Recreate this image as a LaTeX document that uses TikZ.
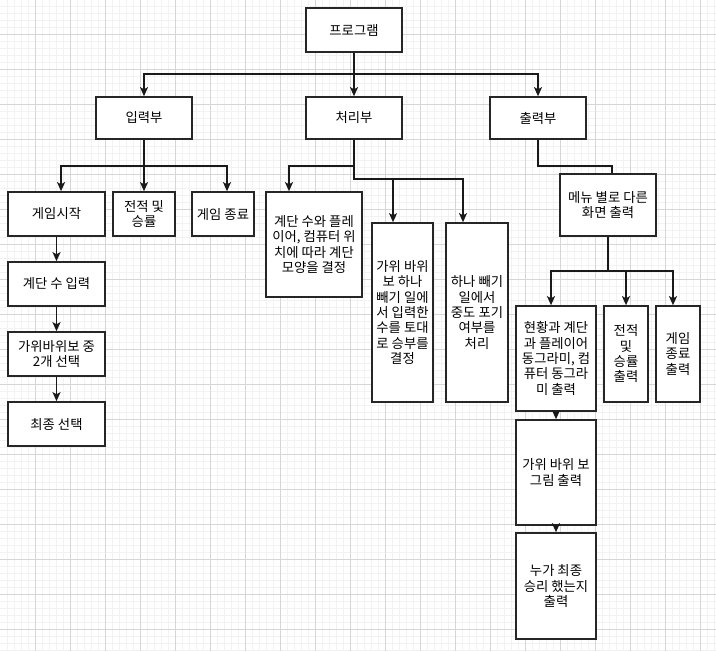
\documentclass[tikz,border=0pt]{standalone}
\usepackage{fontspec}
\newfontfamily\krfont{Noto Sans CJK KR}
\usetikzlibrary{arrows.meta}

\tikzset{
  blk/.style={draw=black!85, line width=1.2pt, fill=white, inner sep=0pt, align=center,
    font=\krfont\fontsize{10}{11.5}\selectfont},
  box/.style 2 args={minimum width=#1*0.75pt, minimum height=#2*0.75pt},
  link/.style={draw=black!90, line width=1.1pt},
  arr/.style={link, -{Stealth[length=6.8pt,width=6pt,inset=1.6pt]}},
  gridminor/.style={draw=black!5, line width=0.4pt},
  gridmajor/.style={draw=black!16, line width=0.5pt}
}

\begin{document}
\begin{tikzpicture}[x=0.75pt,y=0.75pt,yscale=-1,xscale=1]
\useasboundingbox (0,0) rectangle (716,651);

%Grid
\fill[white] (0,0) rectangle (716,651);
\foreach \gx in {7,14,...,714} \draw[gridminor] (\gx,0) -- (\gx,651);
\foreach \gy in {6,13,...,650} \draw[gridminor] (0,\gy) -- (716,\gy);
\foreach \gx in {35,70,...,714} \draw[gridmajor] (\gx,0) -- (\gx,651);
\foreach \gy in {34,69,...,650} \draw[gridmajor] (0,\gy) -- (716,\gy);

%Bus levels
\coordinate (busA) at (0,74);
\coordinate (busB) at (0,166);
\coordinate (busC) at (0,179);
\coordinate (busD) at (0,271);

%Shape: Rectangle (top)
\node[blk, box={96}{44}] (prog) at (354,30) {프로그램};
%Shape: Rectangle (parts)
\node[blk, box={96}{42}] (inp) at (144,118) {입력부};
\node[blk, box={96}{42}] (proc) at (354,118) {처리부};
\node[blk, box={96}{42}] (outp) at (538,118) {출력부};

%Shape: Rectangle (input)
\node[blk, box={97}{44}] (start) at (56.5,214) {게임시작};
\node[blk, box={62}{44}] (record) at (144,214) {전적 및\\승률};
\node[blk, box={62}{44}] (quit) at (223,214) {게임 종료};
\node[blk, box={97}{44}] (steps) at (56.5,284) {계단 수 입력};
\node[blk, box={97}{44}] (pick) at (56.5,354) {가위바위보 중\\2개 선택};
\node[blk, box={97}{44}] (final) at (56.5,424) {최종 선택};

%Shape: Rectangle (process)
\node[blk, box={96}{105}] (stair) at (314,244.5) {계단 수와 플레\\이어, 컴퓨터 위\\치에 따라 계단\\모양을 결정};
\node[blk, box={61}{179}] (judge) at (402.5,312.5) {가위 바위\\보 하나\\빼기 일에\\서 입력한\\수를 토대\\로 승부를\\결정};
\node[blk, box={62}{179}] (giveup) at (477,312.5) {하나 빼기\\일에서\\중도 포기\\여부를\\처리};

%Shape: Rectangle (output)
\node[blk, box={96}{62}] (menu) at (608,205) {메뉴 별로 다른\\화면 출력};
\node[blk, box={80}{105}] (state) at (556,358.5) {현황과 계단\\과 플레이어\\동그라미, 컴\\퓨터 동그라\\미 출력};
\node[blk, box={44}{96}] (scoreout) at (626,354) {전적\\및\\승률\\출력};
\node[blk, box={44}{96}] (quitout) at (678,354) {게임\\종료\\출력};
\node[blk, box={80}{105}] (pict) at (556,472.5) {가위 바위 보\\그림 출력};
\node[blk, box={80}{106}] (winner) at (556,586) {누가 최종\\승리 했는지\\출력};

% Connection
\draw[arr] (prog.south) -- (prog.south |- busA) -| (inp.north);
\draw[arr] (prog) -- (proc);
\draw[arr] (prog.south) -- (prog.south |- busA) -| (outp.north);
% Connection
\draw[arr] (inp.south) -- (inp.south |- busB) -| ([xshift=3.4pt]start.north);
\draw[arr] (inp) -- (record);
\draw[arr] (inp.south) -- (inp.south |- busB) -| ([xshift=3pt]quit.north);
\draw[arr] (start) -- (steps);
\draw[arr] (steps) -- (pick);
\draw[arr] (pick) -- (final);
% Connection
\draw[arr] (proc.south) -- (proc.south |- busB) -| ([xshift=-18.75pt]stair.north);
\draw[arr] (proc.south) -- (proc.south |- busC) -| ([xshift=-7.1pt]judge.north);
\draw[arr] (proc.south) -- (proc.south |- busC) -| ([xshift=-10.5pt]giveup.north);
% Connection
\draw[link] (outp.south) -- (outp.south |- busB) -| ([xshift=3pt]menu.north);
\draw[arr] (menu.south) -- (menu.south |- busD) -| ([xshift=-3.75pt]state.north);
\draw[arr] (menu.south) -- (menu.south |- busD) -| (scoreout.north);
\draw[arr] (menu.south) -- (menu.south |- busD) -| ([xshift=-3.75pt]quitout.north);
\draw[arr] (state) -- (pict);
\draw[arr] (pict) -- (winner);

\end{tikzpicture}
\end{document}
